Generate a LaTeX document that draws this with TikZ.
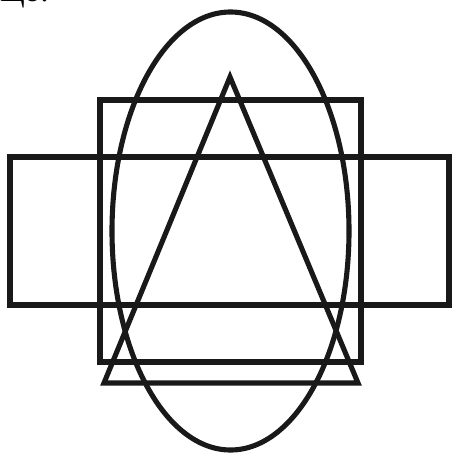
\documentclass[tikz,border=0pt]{standalone}
\usepackage{fontspec}
\setmainfont{Liberation Serif}
\begin{document}
\begin{tikzpicture}[x=0.02cm,y=-0.02cm,figline/.style={line width=2.9pt,black!90,line join=miter}]
\useasboundingbox (0,0) rectangle (454,455);
% tail of the line above the figure
\node[anchor=base west,inner sep=0pt,font=\fontsize{18}{20}\selectfont] (tail) at (0,2) {що.};
% wide rectangle
\draw[figline] (10,157) rectangle (449,305);
% tall rectangle
\draw[figline] (100,100) rectangle (361,362);
% triangle
\draw[figline] (230,77)--(358,383)--(104,383)--cycle;
% ellipse
\draw[figline] (230.5,231) ellipse [x radius=118.5,y radius=219];
\end{tikzpicture}
\end{document}
